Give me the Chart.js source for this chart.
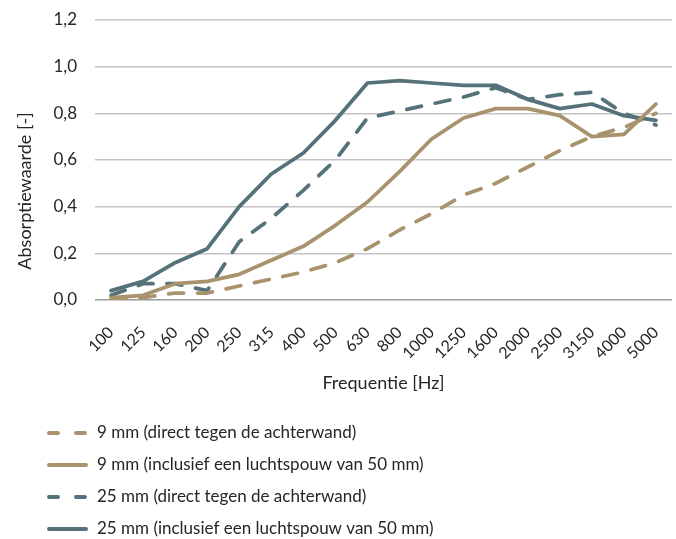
<!DOCTYPE html>
<html>
<head>
<meta charset="utf-8">
<script src="https://cdn.jsdelivr.net/npm/chart.js@4.4.0/dist/chart.umd.min.js"></script>
<style>
  html, body { margin: 0; padding: 0; background: #fff; }
  #wrap { width: 676px; height: 539px; }
</style>
</head>
<body>
<div id="wrap"><canvas id="myChart" width="676" height="539"></canvas></div>
<script>
// frequenties (Hz)
const freqs = ['100','125','160','200','250','315','400','500','630','800','1000','1250','1600','2000','2500','3150','4000','5000'];

// absorptiewaarden
const mm9Direct = [0.00, 0.01, 0.03, 0.03, 0.06, 0.09, 0.12, 0.16, 0.22, 0.30, 0.37, 0.45, 0.50, 0.57, 0.64, 0.70, 0.74, 0.80];
const mm9Spouw  = [0.01, 0.02, 0.07, 0.08, 0.11, 0.17, 0.23, 0.32, 0.42, 0.55, 0.69, 0.78, 0.82, 0.82, 0.79, 0.70, 0.71, 0.84];
const mm25Direct = [0.02, 0.07, 0.07, 0.04, 0.25, 0.35, 0.47, 0.60, 0.78, 0.81, 0.84, 0.87, 0.91, 0.86, 0.88, 0.89, 0.80, 0.75];
const mm25Spouw  = [0.04, 0.08, 0.16, 0.22, 0.40, 0.54, 0.63, 0.77, 0.93, 0.94, 0.93, 0.92, 0.92, 0.86, 0.82, 0.84, 0.79, 0.77];

const seriesNames = [
  '9 mm (direct tegen de achterwand)',
  '9 mm (inclusief een luchtspouw van 50 mm)',
  '25 mm (direct tegen de achterwand)',
  '25 mm (inclusief een luchtspouw van 50 mm)'
];
const yTitle = 'Absorptiewaarde [-]';

const tan = '#a8936d';
const teal = '#55727a';
const dash = [15, 14];
const textColor = '#262626';

// legenda onder de grafiek (een regel per serie) + y-as titel
const listLegend = {
  id: 'listLegend',
  afterDraw(chart) {
    const ctx = chart.ctx;
    ctx.save();
    chart.data.datasets.forEach((ds, i) => {
      const y = 433 + i * 32;
      ctx.beginPath();
      ctx.strokeStyle = ds.borderColor;
      ctx.lineWidth = 4;
      ctx.lineCap = 'round';
      ctx.setLineDash(ds.borderDash && ds.borderDash.length ? [9, 18] : []);
      ctx.moveTo(49, y);
      ctx.lineTo(86, y);
      ctx.stroke();
      ctx.setLineDash([]);
      ctx.fillStyle = textColor;
      ctx.font = '17px Lato';
      ctx.textBaseline = 'middle';
      ctx.textAlign = 'left';
      ctx.fillText(ds.label, 97, y);
    });
    // y title, iets onder het midden zoals in het origineel
    ctx.translate(25, 191);
    ctx.rotate(-Math.PI / 2);
    ctx.font = '18px Lato';
    ctx.fillStyle = textColor;
    ctx.textAlign = 'center';
    ctx.textBaseline = 'middle';
    ctx.fillText(yTitle, 0, 0);
    ctx.restore();
  }
};

function makeSet(label, data, color, dashed) {
  return {
    label: label,
    data: data,
    borderColor: color,
    backgroundColor: color,
    borderWidth: 3.75,
    borderDash: dashed ? dash : [],
    borderCapStyle: 'round',
    borderJoinStyle: 'round',
    pointRadius: 0,
    tension: 0,
    fill: false
  };
}

new Chart('myChart', {
  type: 'line',
  data: {
    labels: freqs,
    datasets: [
      makeSet(seriesNames[0], mm9Direct, tan, true),
      makeSet(seriesNames[1], mm9Spouw, tan, false),
      makeSet(seriesNames[2], mm25Direct, teal, true),
      makeSet(seriesNames[3], mm25Spouw, teal, false)
    ]
  },
  options: {
    responsive: false,
    animation: false,
    layout: { padding: { top: 20, right: 4, bottom: 145, left: 0 } },
    plugins: {
      legend: { display: false },
      tooltip: { enabled: false }
    },
    scales: {
      x: {
        offset: true,
        grid: { display: false, drawTicks: false },
        border: { display: false },
        ticks: {
          color: textColor,
          font: { family: 'Lato', size: 16 },
          maxRotation: 45,
          minRotation: 45,
          autoSkip: false,
          padding: 23
        },
        title: {
          display: true,
          text: 'Frequentie [Hz]',
          color: textColor,
          font: { family: 'Lato', size: 18 },
          padding: 0
        },
        afterFit(scale) {
          scale.height = 94;
          scale.paddingLeft = 0;
          scale.paddingRight = 0;
        }
      },
      y: {
        min: 0,
        max: 1.2,
        ticks: {
          stepSize: 0.2,
          color: textColor,
          font: { family: 'Lato', size: 17 },
          padding: 18,
          callback: v => v.toFixed(1).replace('.', ',')
        },
        grid: {
          drawTicks: false,
          lineWidth: 1.5,
          color: ctx => ctx.tick && ctx.tick.value === 0 ? '#9a9a9a' : '#c4c4c4'
        },
        border: { display: false },
        afterFit(scale) {
          scale.width = 95;
          scale.paddingTop = 0;
          scale.paddingBottom = 0;
        }
      }
    }
  },
  plugins: [listLegend]
});
</script>
</body>
</html>
